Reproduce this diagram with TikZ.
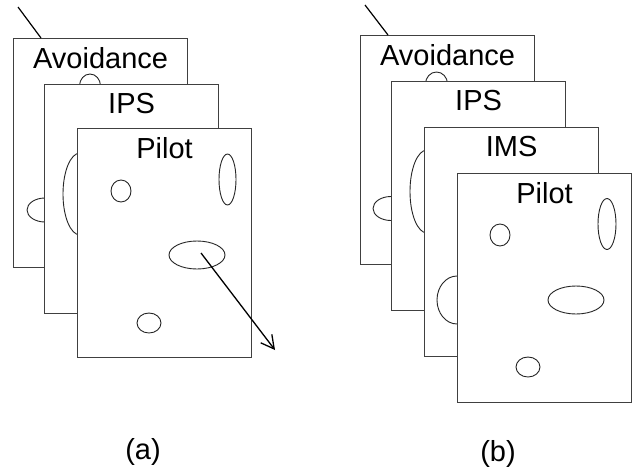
\documentclass[tikz,border=0pt]{standalone}
\usepackage{fontspec}
\setmainfont{Liberation Sans}
\usetikzlibrary{arrows.meta}

\tikzset{
  page/.style={draw=black!75, fill=white, line width=0.6pt, anchor=north west,
    inner sep=0pt, minimum width=87pt, minimum height=114.5pt},
  title/.style={font=\fontsize{14.5}{17}\selectfont},
  spot/.style={draw=black!85, line width=0.45pt},
}

\begin{document}
\begin{tikzpicture}[x=0.5pt, y=-0.5pt]
    \useasboundingbox (0,0) rectangle (632,471);
    % (a)
    \node[page] (avoidA) at (13,38) {};
    \node[title] (avoidAt) at ([yshift=-10pt]avoidA.north) {Avoidance};
    \draw[spot] (90,86) ellipse (10.5 and 12);
    \draw[spot] (45,210) ellipse (18 and 12);
    \coordinate (hookA) at (18,7);
    \coordinate (hookAend) at (41,38);
    \draw[line width=0.6pt] (hookA) -- (hookAend);
    \node[page] (ipsA) at (44,84) {};
    \node[title] (ipsAt) at ([yshift=-10pt]ipsA.north) {IPS};
    \draw[spot] (80,194) ellipse (17 and 41);
    \node[page] (pilotA) at (77,128) {};
    \node[title] (pilotAt) at ([yshift=-10pt]pilotA.north) {Pilot};
    \draw[spot] (121,191) ellipse (10 and 11);
    \draw[spot] (227.5,179.5) ellipse (8.5 and 25.5);
    \draw[spot] (197,255) ellipse (28 and 14);
    \draw[spot] (149,323) ellipse (12 and 10);
    \coordinate (moveA) at (201,253);
    \coordinate (moveAend) at (275,350);
    \draw[line width=0.65pt, -{Straight Barb[length=6.5pt,width=7pt]}] (moveA) -- (moveAend);
    \node[title] (capA) at (143,452) {(a)};
    % (b)
    \node[page] (avoidB) at (360,35) {};
    \node[title] (avoidBt) at ([yshift=-10pt]avoidB.north) {Avoidance};
    \draw[spot] (436.5,84) ellipse (11 and 12);
    \draw[spot] (391,208.5) ellipse (18 and 12);
    \coordinate (hookB) at (365,5);
    \coordinate (hookBend) at (388,35);
    \draw[line width=0.6pt] (hookB) -- (hookBend);
    \node[page] (ipsB) at (391,81) {};
    \node[title] (ipsBt) at ([yshift=-10pt]ipsB.north) {IPS};
    \draw[spot] (427,191.5) ellipse (17 and 41.5);
    \node[page] (imsB) at (424,127) {};
    \node[title] (imsBt) at ([yshift=-10pt]imsB.north) {IMS};
    \draw[spot] (457,300) ellipse (20 and 24);
    \node[page] (pilotB) at (457,173) {};
    \node[title] (pilotBt) at ([yshift=-10pt]pilotB.north) {Pilot};
    \draw[spot] (500,235) ellipse (10 and 11);
    \draw[spot] (607,224) ellipse (9 and 25.5);
    \draw[spot] (576,300) ellipse (28 and 14);
    \draw[spot] (528,367) ellipse (12 and 10);
    \node[title] (capB) at (498,454) {(b)};
\end{tikzpicture}
\end{document}
